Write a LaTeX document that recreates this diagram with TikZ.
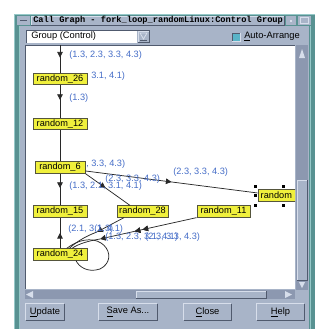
\documentclass[tikz,border=0pt]{standalone}
\usepackage{fontspec}
\setmainfont{Liberation Sans}
\newfontfamily\titlefont{Liberation Mono}
\usetikzlibrary{decorations.markings,arrows.meta}
\definecolor{panel}{RGB}{168,180,200}
\definecolor{trough}{RGB}{140,152,176}
\definecolor{frameteal}{RGB}{88,146,146}
\definecolor{framelight}{RGB}{150,200,200}
\definecolor{nodeyellow}{RGB}{240,240,60}
\definecolor{nodeborder}{RGB}{85,85,60}
\definecolor{labblue}{RGB}{70,110,200}
\definecolor{edgecol}{RGB}{40,40,40}
\definecolor{dkgray}{RGB}{80,90,110}
\definecolor{ltpanel}{RGB}{215,222,235}
\definecolor{chkteal}{RGB}{90,180,200}
\tikzset{
  gnode/.style={draw=nodeborder, fill=nodeyellow, line width=0.7pt, minimum height=8.5pt, inner sep=0pt, font=\fontsize{6.9}{8}\selectfont},
  elab/.style={text=labblue, font=\fontsize{6.9}{8}\selectfont, anchor=west, inner sep=0pt},
  edge/.style={draw=edgecol, line width=0.55pt},
  tip/.style={-{Triangle[length=4.2pt,width=4.2pt]}},
  midarrow/.style={postaction={decorate}, decoration={markings, mark=at position #1 with {\arrow{Triangle[length=4.2pt,width=4.2pt]}}}},
  guitext/.style={font=\fontsize{7}{8}\selectfont, inner sep=0pt},
  btn/.style={fill=panel, guitext, minimum height=12pt},
}
\begin{document}
\begin{tikzpicture}[x=0.75pt,y=-0.75pt]
\useasboundingbox (0,0) rectangle (321,329);
\fill[white] (0,0) rectangle (321,329);
% window frame
\fill[frameteal] (14,14) rectangle (315,329);
\draw[framelight, line width=0.75pt] (14.5,329) -- (14.5,14.5) -- (315,14.5);
\draw[framelight, line width=0.75pt] (19,329) -- (19,26);
\draw[framelight, line width=0.75pt] (310,329) -- (310,26);
\fill[panel] (20,26) rectangle (309,329);
% title bar
\fill[panel] (17,16) rectangle (30,25);
\draw[dkgray, line width=0.75pt] (20,20.5) -- (27,20.5);
\fill[panel] (31,16) rectangle (284,25);
\draw[ltpanel, line width=0.6pt] (31,25) -- (31,16) -- (284,16);
\draw[dkgray, line width=0.6pt] (284,16) -- (284,25) -- (31,25);
\node[anchor=west, inner sep=0pt, font=\titlefont\bfseries\fontsize{6.5}{7}\selectfont] (title) at (33,20.5) {Call Graph - fork\_loop\_randomLinux:Control Group};
\fill[panel] (286,16) rectangle (296,25);
\fill[ltpanel] (290,20) rectangle (292,22);
\fill[panel] (298,16) rectangle (311,25);
\draw[ltpanel, line width=0.6pt] (300.5,17.5) rectangle (308.5,23.5);
% dropdown
\fill[white] (26,30) rectangle (137,43);
\draw[dkgray, line width=0.6pt] (26,43) -- (26,30) -- (150,30);
\fill[panel] (138,31) rectangle (149,42);
\draw[ltpanel, line width=0.6pt] (138,42) -- (138,31) -- (149,31);
\draw[dkgray, line width=0.6pt] (149,31) -- (149,42) -- (138,42);
\draw[ltpanel, line width=0.6pt] (140,33) -- (147,33) -- (143.5,39) -- cycle;
\draw[dkgray, line width=0.6pt] (140,40.5) -- (147,40.5);
\node[guitext, anchor=west] (grp) at (31,36.5) {Group (Control)};
% checkbox
\fill[chkteal] (232,33) rectangle (240,41);
\draw[dkgray, line width=0.6pt] (232,41) -- (232,33) -- (240,33);
\draw[ltpanel, line width=0.6pt] (240,33) -- (240,41) -- (232,41);
\node[guitext, anchor=west] (auto) at (244,37) {\underline{A}uto-Arrange};
% canvas
\fill[white] (25,45) rectangle (295,289);
\draw[dkgray, line width=0.75pt] (25,289) -- (25,45) -- (295,45);
% vertical scrollbar
\fill[trough] (296,45) rectangle (308,290);
\fill[ltpanel] (299,58) -- (305,58) -- (302,49) -- cycle;
\fill[panel] (297,180) rectangle (307,280);
\draw[ltpanel, line width=0.6pt] (297,280) -- (297,180) -- (307,180);
\draw[dkgray, line width=0.6pt] (307,180) -- (307,280) -- (297,280);
\fill[ltpanel] (299,282) -- (305,282) -- (302,288) -- cycle;
% horizontal scrollbar
\fill[trough] (25,290) rectangle (295,299);
\fill[ltpanel] (26,294.5) -- (33,291) -- (33,298) -- cycle;
\fill[panel] (136,291) rectangle (266,298);
\draw[ltpanel, line width=0.6pt] (136,298) -- (136,291) -- (266,291);
\draw[dkgray, line width=0.6pt] (266,291) -- (266,298) -- (136,298);
\fill[ltpanel] (285,291) -- (285,298) -- (292,294.5) -- cycle;
% buttons
\node[btn, minimum width=28.5pt] (bupd) at (45,312) {\underline{U}pdate};
\node[btn, minimum width=43.5pt] (bsave) at (128,312) {\underline{S}ave As...};
\node[btn, minimum width=35.25pt] (bclose) at (207.5,312) {\underline{C}lose};
\node[btn, minimum width=35.25pt] (bhelp) at (280.5,312) {\underline{H}elp};
\foreach \b in {bupd,bsave,bclose,bhelp}{
  \draw[ltpanel, line width=0.75pt] (\b.south west) -- (\b.north west) -- (\b.north east);
  \draw[dkgray, line width=0.75pt] (\b.north east) -- (\b.south east) -- (\b.south west);
}
% graph
\begin{scope}
\clip (25.5,45.5) rectangle (295,289);
\node[gnode, minimum width=40.5pt] (n26) at (60,79) {random\_26};
\node[gnode, minimum width=40.5pt] (n12) at (60,124) {random\_12};
\node[gnode, minimum width=37.5pt] (n6) at (60,167.5) {random\_6};
\node[gnode, minimum width=40.5pt] (n15) at (60,211.5) {random\_15};
\node[gnode, minimum width=40.5pt] (n24) at (60,254.5) {random\_24};
\node[gnode, minimum width=38.25pt] (n28) at (142.5,211.5) {random\_28};
\node[gnode, minimum width=39.75pt] (n11) at (223.5,211.5) {random\_11};
\node[gnode, minimum width=39pt] (nr) at (284,195.5) {random\hphantom{\_00}};
\foreach \p in {(255,186),(255,195.5),(255,205),(283,186),(283,205)}{
  \fill[black] \p ++(-1.5,-1.5) rectangle ++(3,3);
}
\coordinate (top) at (60,45);
\coordinate (k1) at (97,232);
\coordinate (k2) at (100,239);
\draw[edge, midarrow=0.45] (top) -- (n26);
\draw[edge, midarrow=0.45] (n26) -- (n12);
\draw[edge] (n12) -- (n6);
\draw[edge, midarrow=0.45] (n6) -- (n15);
\draw[edge, midarrow=0.5] (n24) -- (n15);
\draw[edge, midarrow=0.5] ([yshift=-2.6pt]n6.east) -- ([yshift=1.9pt]nr.west);
\draw[edge, midarrow=0.45] (n6.south east) -- ([xshift=-9.4pt]n28.north);
\draw[edge, tip] ([xshift=-13.9pt]n28.south) -- (k1);
\draw[edge] (k1) .. controls (86,236) and (76,242) .. ([xshift=7pt]n24.north);
\draw[edge, tip, midarrow=0.56, midarrow=0.64] (n11.south west) -- (k2);
\draw[edge] (k2) .. controls (88,241) and (78,244) .. ([xshift=9pt]n24.north);
\draw[edge] ([xshift=5pt]n24.north) .. controls (100,224) and (122,258) .. (100,269) .. controls (88,273) and (79,267) .. ([xshift=12pt]n24.south);
% labels
\node[elab] (l1) at (69,55) {(1.3, 2.3, 3.3, 4.3)};
\node[elab] (l2) at (91,76) {3.1, 4.1)};
\node[elab] (l3) at (69,98) {(1.3)};
\node[elab] (l4) at (86,164) {, 3.3, 4.3)};
\node[elab] (l5) at (173,172) {(2.3, 3.3, 4.3)};
\node[elab] (l6) at (105,179) {(2.3, 3.3, 4.3)};
\node[elab] (l7) at (69,186) {(1.3, 2.1, 3.1, 4.1)};
\node[elab] (l8) at (68,229) {(2.1, 3.1, 4.1)};
\node[elab] (l9) at (94,229) {(1.3)};
\node[elab] (l10) at (105,237) {(1.3, 2.3, 3.1, 4.1)};
\node[elab] (l11) at (145,237) {(2.3, 3.3, 4.3)};
\end{scope}
\end{tikzpicture}
\end{document}
